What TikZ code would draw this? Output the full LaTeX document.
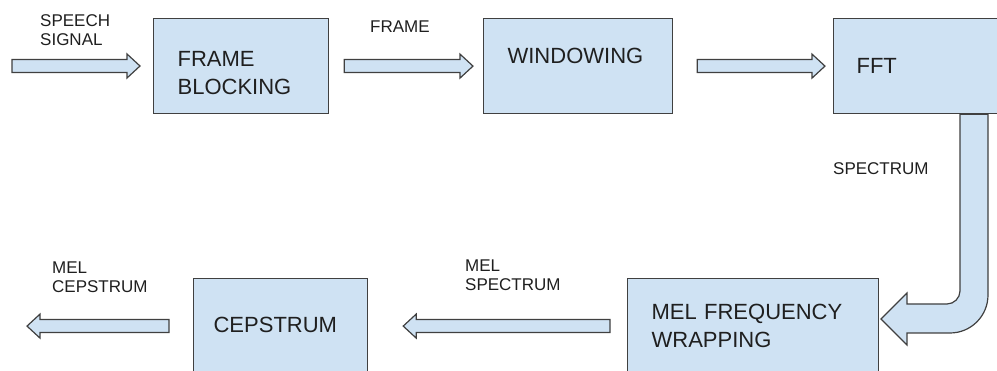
\documentclass[tikz,border=0pt]{standalone}
\usepackage{fontspec}
\setmainfont{Liberation Sans}
\usepackage{tikz}
\usetikzlibrary{calc}
\definecolor{boxblue}{HTML}{CFE2F3}
\definecolor{edgegray}{HTML}{404040}
\definecolor{inkgray}{HTML}{1F1F1F}

\tikzset{
  stage/.style={draw=edgegray, fill=boxblue, line width=1.2pt, text=inkgray,
    font=\fontsize{22}{28}\selectfont, align=left, anchor=north west,
    inner xsep=24pt, inner ysep=0pt},
  tag/.style={text=inkgray, font=\fontsize{17}{19}\selectfont, align=left,
    anchor=north west, inner sep=0pt},
  pipe/.style={draw=edgegray, fill=boxblue, line width=1.2pt},
  blockarrow/.style={pipe, to path={let \p1=(\tikztostart), \p2=(\tikztotarget),
      \p3=($(\p2)!13pt!(\p1)$) in
      (\x1,\y1+6.5pt) -- (\x3,\y1+6.5pt) -- (\x3,\y1+12pt) -- (\x2,\y1)
      -- (\x3,\y1-12pt) -- (\x3,\y1-6.5pt) -- (\x1,\y1-6.5pt) -- cycle}}
}

\begin{document}
\begin{tikzpicture}[x=1pt,y=-1pt]
  \useasboundingbox (0,0) rectangle (997,371);
  \clip (0,0) rectangle (997,371);

  \node[stage, text width=127pt, text height=48pt, text depth=47pt] (fb) at (153,18) {FRAME\\BLOCKING};
  \node[stage, text width=141pt, text height=45pt, text depth=50pt] (win) at (483,18) {WINDOWING};
  \node[stage, inner xsep=23pt, text width=131pt, text height=55pt, text depth=40pt] (fft) at (833,18) {FFT};
  \node[stage, text width=203pt, text height=41pt, text depth=54pt] (mel) at (627,278) {MEL FREQUENCY\\WRAPPING};
  \node[stage, inner xsep=20pt, text width=134pt, text height=54pt, text depth=41pt] (cep) at (193,278) {CEPSTRUM};

  \node[tag] (speech) at (40,14) {SPEECH\\SIGNAL};
  \node[tag] (frame) at (370,21) {FRAME};
  \node[tag] (spectrum) at (833,162) {SPECTRUM};
  \node[tag] (melspec) at (465,260) {MEL\\SPECTRUM};
  \node[tag] (melcep) at (52,262) {MEL\\CEPSTRUM};

  \coordinate (src) at (12,66);
  \coordinate (sink) at (27,326);

  \draw[blockarrow] (src) to ([xshift=-13pt]fb.west);
  \draw[blockarrow] ([xshift=15pt]fb.east) to ([xshift=-10pt]win.west);
  \draw[blockarrow] ([xshift=24pt]win.east) to ([xshift=-8pt]fft.west);
  \draw[blockarrow] ([xshift=-17pt]mel.west) to ([xshift=35pt]cep.east);
  \draw[blockarrow] ([xshift=-24pt]cep.west) to (sink);

  % spectrum leaves the fft downwards and bends into the mel stage
  \draw[pipe] (fft.south -| 960,0) -- (960,291)
    .. controls (960,298) and (954,304) .. (947,304)
    -- (907,304) -- (907,293) -- (881,319) -- (907,345) -- (907,333) -- (950,333)
    .. controls (971,333) and (988,316) .. (988,295) -- (fft.south -| 988,0) -- cycle;
\end{tikzpicture}
\end{document}
